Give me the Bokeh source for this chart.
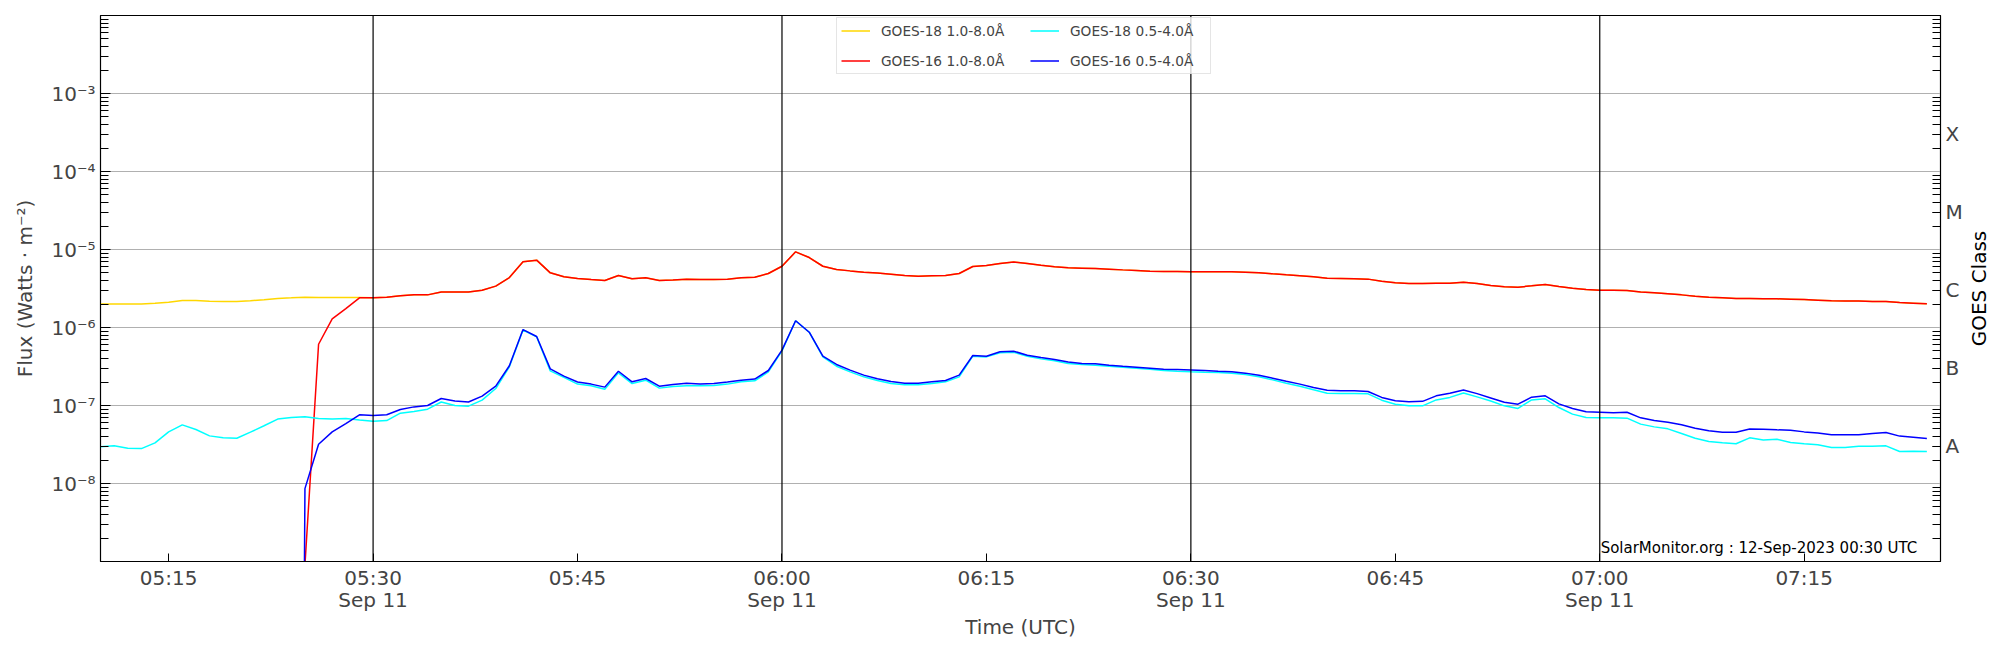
from datetime import datetime, timedelta
import numpy as np
from bokeh.plotting import figure
from bokeh.layouts import row
from bokeh.models import (Range1d, FixedTicker, LogAxis, CustomJSTickFormatter,
                          Span, Label, Legend, LegendItem)
from bokeh.core.properties import value
from bokeh.embed import file_html
from bokeh.resources import INLINE

# ---------------- data ----------------
DAY = datetime(2023, 9, 11)
START = "05:10"
END = "07:25"

# minutes after 05:10 (1-minute cadence)
goes18_minutes = list(range(0, 135))
# GOES-16 starts at 05:25 (first sample a few seconds earlier, near zero)
goes16_minutes = [14.85] + list(range(15, 135))

goes18_long = [
    2.0e-6, 2.0e-6, 2.0e-6, 2.0e-6, 2.04e-6, 2.1e-6, 2.22e-6, 2.22e-6, 2.17e-6, 2.15e-6,
    2.15e-6, 2.2e-6, 2.27e-6, 2.36e-6, 2.4e-6, 2.45e-6, 2.43e-6, 2.43e-6, 2.43e-6, 2.42e-6,
    2.4e-6, 2.45e-6, 2.55e-6, 2.62e-6, 2.62e-6, 2.86e-6, 2.86e-6, 2.86e-6, 3.0e-6, 3.39e-6,
    4.37e-6, 6.95e-6, 7.3e-6, 5.02e-6, 4.47e-6, 4.25e-6, 4.12e-6, 4.0e-6, 4.64e-6, 4.21e-6,
    4.33e-6, 4.0e-6, 4.05e-6, 4.17e-6, 4.12e-6, 4.12e-6, 4.17e-6, 4.33e-6, 4.41e-6, 4.92e-6,
    6.1e-6, 9.33e-6, 7.89e-6, 6.1e-6, 5.55e-6, 5.32e-6, 5.12e-6, 4.98e-6, 4.83e-6, 4.64e-6,
    4.55e-6, 4.6e-6, 4.64e-6, 4.92e-6, 6.05e-6, 6.24e-6, 6.62e-6, 6.89e-6, 6.62e-6, 6.3e-6,
    6.0e-6, 5.82e-6, 5.76e-6, 5.7e-6, 5.6e-6, 5.48e-6, 5.38e-6, 5.28e-6, 5.23e-6, 5.23e-6,
    5.18e-6, 5.18e-6, 5.18e-6, 5.18e-6, 5.12e-6, 5.02e-6, 4.87e-6, 4.73e-6, 4.6e-6, 4.47e-6,
    4.29e-6, 4.25e-6, 4.21e-6, 4.17e-6, 3.93e-6, 3.74e-6, 3.66e-6, 3.66e-6, 3.7e-6, 3.7e-6,
    3.81e-6, 3.66e-6, 3.45e-6, 3.32e-6, 3.29e-6, 3.42e-6, 3.56e-6, 3.35e-6, 3.19e-6, 3.07e-6,
    3.01e-6, 3.01e-6, 2.98e-6, 2.86e-6, 2.78e-6, 2.7e-6, 2.62e-6, 2.52e-6, 2.45e-6, 2.4e-6,
    2.35e-6, 2.35e-6, 2.33e-6, 2.33e-6, 2.31e-6, 2.28e-6, 2.24e-6, 2.2e-6, 2.18e-6, 2.18e-6,
    2.16e-6, 2.16e-6, 2.09e-6, 2.05e-6, 2.01e-6,
]

goes18_short = [
    2.95e-8, 3.04e-8, 2.84e-8, 2.8e-8, 3.32e-8, 4.59e-8, 5.65e-8, 4.92e-8, 4.08e-8, 3.85e-8,
    3.8e-8, 4.55e-8, 5.5e-8, 6.7e-8, 7.0e-8, 7.16e-8, 6.8e-8, 6.7e-8, 6.8e-8, 6.5e-8,
    6.3e-8, 6.4e-8, 7.98e-8, 8.4e-8, 8.97e-8, 1.11e-7, 1.0e-7, 9.8e-8, 1.17e-7, 1.65e-7,
    3.13e-7, 9.3e-7, 7.6e-7, 2.78e-7, 2.29e-7, 1.88e-7, 1.79e-7, 1.62e-7, 2.62e-7, 1.91e-7,
    2.11e-7, 1.67e-7, 1.75e-7, 1.79e-7, 1.79e-7, 1.8e-7, 1.88e-7, 2.01e-7, 2.07e-7, 2.7e-7,
    5.02e-7, 1.22e-6, 8.7e-7, 4.2e-7, 3.19e-7, 2.7e-7, 2.33e-7, 2.09e-7, 1.91e-7, 1.84e-7,
    1.84e-7, 1.91e-7, 2.01e-7, 2.33e-7, 4.29e-7, 4.2e-7, 4.73e-7, 4.82e-7, 4.29e-7, 3.96e-7,
    3.74e-7, 3.46e-7, 3.36e-7, 3.29e-7, 3.19e-7, 3.1e-7, 3.01e-7, 2.92e-7, 2.81e-7, 2.75e-7,
    2.7e-7, 2.67e-7, 2.65e-7, 2.6e-7, 2.49e-7, 2.33e-7, 2.13e-7, 1.93e-7, 1.77e-7, 1.59e-7,
    1.44e-7, 1.43e-7, 1.43e-7, 1.41e-7, 1.17e-7, 1.04e-7, 9.9e-8, 9.9e-8, 1.18e-7, 1.27e-7,
    1.45e-7, 1.29e-7, 1.14e-7, 9.9e-8, 9.16e-8, 1.18e-7, 1.22e-7, 9.42e-8, 7.75e-8, 7.02e-8,
    6.95e-8, 6.95e-8, 6.88e-8, 5.77e-8, 5.32e-8, 5.02e-8, 4.38e-8, 3.81e-8, 3.45e-8, 3.32e-8,
    3.23e-8, 3.85e-8, 3.6e-8, 3.7e-8, 3.35e-8, 3.23e-8, 3.13e-8, 2.9e-8, 2.9e-8, 3.01e-8,
    3.01e-8, 3.04e-8, 2.57e-8, 2.6e-8, 2.57e-8,
]

goes16_long = [
    1e-12, 9e-10,
    6.1e-7, 1.29e-6, 1.75e-6, 2.4e-6, 2.4e-6, 2.45e-6, 2.55e-6, 2.62e-6, 2.62e-6,
    2.86e-6, 2.86e-6, 2.86e-6, 3.0e-6, 3.39e-6, 4.37e-6, 6.95e-6, 7.3e-6, 5.02e-6, 4.47e-6,
    4.25e-6, 4.12e-6, 4.0e-6, 4.64e-6, 4.21e-6, 4.33e-6, 4.0e-6, 4.05e-6, 4.17e-6, 4.12e-6,
    4.12e-6, 4.17e-6, 4.33e-6, 4.41e-6, 4.92e-6, 6.1e-6, 9.33e-6, 7.89e-6, 6.1e-6, 5.55e-6,
    5.32e-6, 5.12e-6, 4.98e-6, 4.83e-6, 4.64e-6, 4.55e-6, 4.6e-6, 4.64e-6, 4.92e-6, 6.05e-6,
    6.24e-6, 6.62e-6, 6.89e-6, 6.62e-6, 6.3e-6, 6.0e-6, 5.82e-6, 5.76e-6, 5.7e-6, 5.6e-6,
    5.48e-6, 5.38e-6, 5.28e-6, 5.23e-6, 5.23e-6, 5.18e-6, 5.18e-6, 5.18e-6, 5.18e-6, 5.12e-6,
    5.02e-6, 4.87e-6, 4.73e-6, 4.6e-6, 4.47e-6, 4.29e-6, 4.25e-6, 4.21e-6, 4.17e-6, 3.93e-6,
    3.74e-6, 3.66e-6, 3.66e-6, 3.7e-6, 3.7e-6, 3.81e-6, 3.66e-6, 3.45e-6, 3.32e-6, 3.29e-6,
    3.42e-6, 3.56e-6, 3.35e-6, 3.19e-6, 3.07e-6, 3.01e-6, 3.01e-6, 2.98e-6, 2.86e-6, 2.78e-6,
    2.7e-6, 2.62e-6, 2.52e-6, 2.45e-6, 2.4e-6, 2.35e-6, 2.35e-6, 2.33e-6, 2.33e-6, 2.31e-6,
    2.28e-6, 2.24e-6, 2.2e-6, 2.18e-6, 2.18e-6, 2.16e-6, 2.16e-6, 2.09e-6, 2.05e-6, 2.01e-6,
]

goes16_short = [
    1e-12, 8.6e-9,
    3.19e-8, 4.59e-8, 5.87e-8, 7.6e-8, 7.45e-8, 7.6e-8, 8.9e-8, 9.6e-8, 1.0e-7,
    1.23e-7, 1.14e-7, 1.11e-7, 1.32e-7, 1.77e-7, 3.23e-7, 9.4e-7, 7.67e-7, 2.95e-7, 2.38e-7,
    2.0e-7, 1.88e-7, 1.72e-7, 2.75e-7, 2.01e-7, 2.22e-7, 1.77e-7, 1.86e-7, 1.93e-7, 1.88e-7,
    1.91e-7, 2.0e-7, 2.11e-7, 2.18e-7, 2.81e-7, 5.13e-7, 1.22e-6, 8.7e-7, 4.29e-7, 3.36e-7,
    2.84e-7, 2.45e-7, 2.2e-7, 2.03e-7, 1.93e-7, 1.93e-7, 2.01e-7, 2.09e-7, 2.45e-7, 4.37e-7,
    4.29e-7, 4.88e-7, 4.97e-7, 4.42e-7, 4.12e-7, 3.89e-7, 3.6e-7, 3.46e-7, 3.42e-7, 3.29e-7,
    3.19e-7, 3.1e-7, 3.01e-7, 2.92e-7, 2.89e-7, 2.86e-7, 2.81e-7, 2.75e-7, 2.7e-7, 2.6e-7,
    2.45e-7, 2.24e-7, 2.05e-7, 1.88e-7, 1.7e-7, 1.57e-7, 1.55e-7, 1.54e-7, 1.51e-7, 1.27e-7,
    1.15e-7, 1.12e-7, 1.13e-7, 1.33e-7, 1.44e-7, 1.58e-7, 1.42e-7, 1.25e-7, 1.1e-7, 1.04e-7,
    1.28e-7, 1.33e-7, 1.05e-7, 9.16e-8, 8.3e-8, 8.2e-8, 8.1e-8, 8.2e-8, 6.95e-8, 6.43e-8,
    6.11e-8, 5.65e-8, 5.12e-8, 4.73e-8, 4.55e-8, 4.55e-8, 5.01e-8, 4.96e-8, 4.88e-8, 4.83e-8,
    4.59e-8, 4.45e-8, 4.21e-8, 4.21e-8, 4.21e-8, 4.38e-8, 4.5e-8, 4.05e-8, 3.93e-8, 3.78e-8,
]

series_names = ["GOES-18 1.0-8.0Å", "GOES-16 1.0-8.0Å", "GOES-18 0.5-4.0Å", "GOES-16 0.5-4.0Å"]
series_colors = ["#ffd700", "#ff0000", "#00ffff", "#0000ff"]

x_tick_times = ["05:15", "05:30", "05:45", "06:00", "06:15", "06:30", "06:45", "07:00", "07:15"]
x_tick_labels = ["05:15", "05:30\nSep 11", "05:45", "06:00\nSep 11", "06:15",
                 "06:30\nSep 11", "06:45", "07:00\nSep 11", "07:15"]
marker_times = ["05:30", "06:00", "06:30", "07:00"]

flux_ticks = [1e-8, 1e-7, 1e-6, 1e-5, 1e-4, 1e-3]
flux_labels = ["10⁻⁸", "10⁻⁷", "10⁻⁶", "10⁻⁵", "10⁻⁴", "10⁻³"]
class_ticks = [3e-8, 3e-7, 3e-6, 3e-5, 3e-4]
class_labels = ["A", "B", "C", "M", "X"]
class_title = "GOES Class"

watermark = "SolarMonitor.org : 12-Sep-2023 00:30 UTC"

# ---------------- helpers ----------------
EPOCH = datetime(1970, 1, 1)


def hm(s):
    h, m = map(int, s.split(":"))
    return DAY + timedelta(hours=h, minutes=m)


def ms(dt):
    return (dt - EPOCH).total_seconds() * 1000.0


t0 = hm(START)
goes18_t = [t0 + timedelta(minutes=m) for m in goes18_minutes]
goes16_t = [t0 + timedelta(minutes=m) for m in goes16_minutes]

FONT = "DejaVu Sans"
FS = "20px"
Y_LO, Y_HI = 1e-9, 1e-2

LOG_LOOKUP = """
let best = -1, bd = Infinity;
for (let i = 0; i < tvals.length; i++) {
  const d = Math.abs(Math.log10(tvals[i]) - Math.log10(tick));
  if (d < bd) { bd = d; best = i; }
}
return bd < 0.01 ? tlabels[best] : "";
"""
LIN_LOOKUP = """
let best = -1, bd = Infinity;
for (let i = 0; i < tvals.length; i++) {
  const d = Math.abs(tvals[i] - tick);
  if (d < bd) { bd = d; best = i; }
}
return bd < 1000 ? tlabels[best] : "";
"""

p = figure(frame_width=1840, frame_height=546,
           x_axis_type="datetime", y_axis_type="log",
           x_range=Range1d(hm(START), hm(END)),
           y_range=Range1d(Y_LO, Y_HI),
           output_backend="svg", toolbar_location=None,
           min_border_left=100, min_border_top=15, min_border_right=24, min_border_bottom=77,
           background_fill_color="white", border_fill_color="white")

p.outline_line_color = "black"
p.outline_line_width = 1.2

# lines
r1 = p.line(goes18_t, goes18_long, line_color=series_colors[0], line_width=1.5)
r2 = p.line(goes16_t, goes16_long, line_color=series_colors[1], line_width=1.5)
r3 = p.line(goes18_t, goes18_short, line_color=series_colors[2], line_width=1.5)
r4 = p.line(goes16_t, goes16_short, line_color=series_colors[3], line_width=1.5)

# minor log ticks
minor = [k * 10.0 ** n for n in range(-9, -2) for k in range(2, 10)]

# left axis
yax = p.yaxis[0]
yax.ticker = FixedTicker(ticks=flux_ticks, minor_ticks=minor)
yax.formatter = CustomJSTickFormatter(args=dict(tvals=flux_ticks, tlabels=flux_labels), code=LOG_LOOKUP)
yax.axis_label = "Flux (Watts · m⁻²)"
yax.axis_label_text_font = FONT
yax.axis_label_text_font_style = "normal"
yax.axis_label_text_font_size = FS
yax.axis_label_standoff = 11
yax.major_label_text_font = FONT
yax.major_label_text_font_size = FS
yax.major_label_standoff = 5
yax.major_tick_in = 10
yax.major_tick_out = 0
yax.minor_tick_in = 8
yax.minor_tick_out = 0
yax.axis_line_color = "black"
yax.major_tick_line_color = "black"
yax.minor_tick_line_color = "black"

p.ygrid.ticker = FixedTicker(ticks=flux_ticks)
p.ygrid.grid_line_color = "#b0b0b0"
p.ygrid.grid_line_width = 1
p.xgrid.visible = False

# bottom axis
xax = p.xaxis[0]
x_tick_ms = [ms(hm(s)) for s in x_tick_times]
xax.ticker = FixedTicker(ticks=x_tick_ms, minor_ticks=[])
xax.formatter = CustomJSTickFormatter(args=dict(tvals=x_tick_ms, tlabels=x_tick_labels), code=LIN_LOOKUP)
xax.axis_label = "Time (UTC)"
xax.axis_label_text_font = FONT
xax.axis_label_text_font_style = "normal"
xax.axis_label_text_font_size = FS
xax.axis_label_standoff = 0
xax.major_label_text_font = FONT
xax.major_label_text_font_size = FS
xax.major_label_text_line_height = 0.95
xax.major_label_standoff = 4
xax.major_tick_in = 8
xax.major_tick_out = 0
xax.minor_tick_in = 0
xax.minor_tick_out = 0
xax.axis_line_color = "black"

# right axis (GOES class)
rax = LogAxis(ticker=FixedTicker(ticks=class_ticks, minor_ticks=minor),
              formatter=CustomJSTickFormatter(args=dict(tvals=class_ticks, tlabels=class_labels),
                                              code=LOG_LOOKUP))
rax.major_label_text_font = FONT
rax.major_label_text_font_size = FS
rax.major_label_standoff = 5
rax.major_tick_in = 8
rax.major_tick_out = 0
rax.minor_tick_in = 8
rax.minor_tick_out = 0
rax.axis_line_color = "black"
p.add_layout(rax, "right")

# vertical markers
for s in marker_times:
    p.add_layout(Span(location=ms(hm(s)), dimension="height", line_color="black", line_width=1.2))

# watermark
p.add_layout(Label(x=ms(t0 + timedelta(minutes=133.3)), y=1.48e-9, text=watermark,
                   text_align="right", text_baseline="alphabetic",
                   text_font=FONT, text_font_size="15px", text_color="black"))

# legend
legend = Legend(items=[LegendItem(label=series_names[0], renderers=[r1]),
                       LegendItem(label=series_names[1], renderers=[r2]),
                       LegendItem(label=series_names[2], renderers=[r3]),
                       LegendItem(label=series_names[3], renderers=[r4])],
                ncols=2, location=(736, 487))
legend.label_text_font = FONT
legend.label_text_font_size = "13.7px"
legend.glyph_width = 29
legend.glyph_height = 17
legend.label_height = 17
legend.label_width = 136
legend.label_standoff = 11
legend.spacing = 13
legend.padding = 4
legend.margin = 0
legend.border_line_color = "#cccccc"
legend.border_line_width = 1
legend.background_fill_alpha = 0.8
p.add_layout(legend)

# narrow companion panel carrying the right-hand "GOES Class" title (reads bottom-to-top)
p2 = figure(frame_width=30, frame_height=546, x_range=Range1d(0, 1),
            y_range=p.y_range, y_axis_type="log",
            x_axis_location=None, y_axis_location=None,
            output_backend="svg", toolbar_location=None,
            min_border_left=0, min_border_right=0, min_border_top=15, min_border_bottom=77,
            background_fill_color="white", border_fill_color="white")
p2.outline_line_color = None
p2.grid.visible = False
p2.text(x=[0.45], y=[10 ** -5.5], text=[class_title], angle=np.pi / 2,
        text_align="center", text_baseline="middle",
        text_font=value(FONT), text_font_size=value(FS), text_color="black")

layout = row(p, p2, spacing=0)
open("out.html", "w").write(file_html(layout, INLINE))
